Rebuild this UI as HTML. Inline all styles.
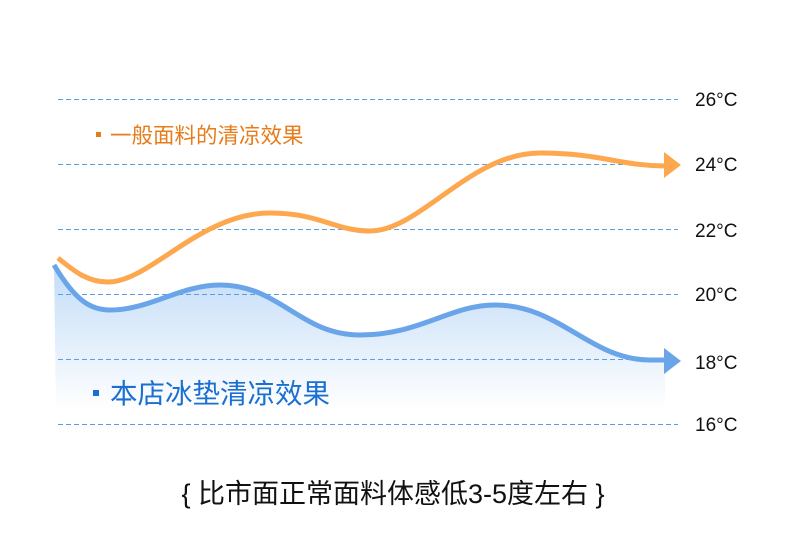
<!DOCTYPE html>
<html><head><meta charset="utf-8"><style>
html,body{margin:0;padding:0;background:#fff;}
svg{display:block;font-family:"Liberation Sans","Noto Sans CJK SC",sans-serif;}
</style></head><body>
<svg width="790" height="557" viewBox="0 0 790 557">
<defs>
<linearGradient id="g" gradientUnits="userSpaceOnUse" x1="0" y1="270" x2="0" y2="410">
<stop offset="0" stop-color="#c4ddf8"/>
<stop offset="1" stop-color="#ffffff"/>
</linearGradient>
</defs>
<path d="M54,265 C75,300 90,310 110,310 C150,310 180,285 220,285 C280,285 300,335 360,335 C420,335 450,305 495,305 C560,305 590,360 650,360 L665,360 L665,412 L56,412 Z" fill="url(#g)"/>
<g stroke="#5a9ee8" stroke-width="1" stroke-dasharray="5,3">
<line x1="58" y1="99.5" x2="678" y2="99.5"/>
<line x1="58" y1="164.5" x2="678" y2="164.5"/>
<line x1="58" y1="229.5" x2="678" y2="229.5"/>
<line x1="58" y1="294.5" x2="678" y2="294.5"/>
<line x1="58" y1="359.5" x2="678" y2="359.5"/>
<line x1="58" y1="424.5" x2="678" y2="424.5"/>
</g>
<g font-size="19" fill="#111">
<text x="695" y="106">26°C</text>
<text x="695" y="171">24°C</text>
<text x="695" y="237">22°C</text>
<text x="695" y="301">20°C</text>
<text x="695" y="369">18°C</text>
<text x="695" y="431">16°C</text>
</g>
<path d="M58,258 C75,272 88,282 108,282 C150,282 200,213 270,213 C320,213 335,231 370,231 C420,231 470,153 540,153 C600,153 620,166 666,166" fill="none" stroke="#fda74f" stroke-width="5"/>
<polygon points="664,152 681,165 664,178" fill="#fda74f"/>
<path d="M54,265 C75,300 90,310 110,310 C150,310 180,285 220,285 C280,285 300,335 360,335 C420,335 450,305 495,305 C560,305 590,360 650,360 L666,360" fill="none" stroke="#6aa5ea" stroke-width="5"/>
<polygon points="664,348 681,361 664,374" fill="#6aa5ea"/>
<rect x="96" y="132" width="5" height="5" fill="#e67c1a"/>
<text x="110" y="143" font-size="21.5" fill="#e67c1a">一般面料的清凉效果</text>
<rect x="93" y="390" width="6" height="6" fill="#1a6fd0"/>
<text x="110" y="403" font-size="27.5" fill="#1a6fd0">本店冰垫清凉效果</text>
<text x="393" y="503" font-size="27" fill="#111" text-anchor="middle">{ 比市面正常面料体感低3-5度左右 }</text>
</svg>
</body></html>
